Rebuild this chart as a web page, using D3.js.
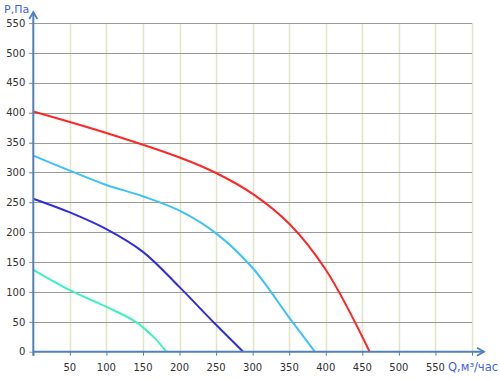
<!DOCTYPE html>
<html><head><meta charset="utf-8">
<script src="https://cdn.jsdelivr.net/npm/d3@7"></script>
<style>html,body{margin:0;padding:0;background:#fff;}</style>
</head><body>
<svg id="c" width="500" height="380"></svg>
<script>
const xTicks = [50,100,150,200,250,300,350,400,450,500,550];
const yTicks = [0,50,100,150,200,250,300,350,400,450,500,550];
const redQ = [0,100,200,250,300,350,400,460];
const redP = [402,366,325,299,264,214,137,0];
const lightBlueQ = [0,50,100,150,200,250,300,350,385];
const lightBlueP = [328,303,279,260,236,198,140,57,0];
const darkBlueQ = [0,50,100,150,200,250,287];
const darkBlueP = [256,233,205,167,108,45,0];
const greenQ = [0,50,100,140,165,182];
const greenP = [137,103,75,50,24,0];
const series = [
  {q: greenQ, p: greenP, color: "#3cf2c4"},
  {q: darkBlueQ, p: darkBlueP, color: "#2f2fe0"},
  {q: lightBlueQ, p: lightBlueP, color: "#3cc2fb"},
  {q: redQ, p: redP, color: "#ff2626"}
];

const svg = d3.select("#c");
const x = d3.scaleLinear().domain([0,600]).range([33.3,472]);
const y = d3.scaleLinear().domain([0,550]).range([351.7,23]);
const axisColor = "#4f81bd";
const font = "DejaVu Sans, Verdana, sans-serif";

// vertical gridlines
svg.append("g").selectAll("line").data(d3.range(50,601,50)).join("line")
  .attr("x1", d=>Math.round(x(d))+0.5).attr("x2", d=>Math.round(x(d))+0.5)
  .attr("y1", y(550)).attr("y2", y(0))
  .attr("stroke", "#e0e6c6").attr("stroke-width", 1.5);

// horizontal gridlines
svg.append("g").selectAll("line").data(yTicks.filter(d=>d>0)).join("line")
  .attr("x1", x(0)-4).attr("x2", x(600))
  .attr("y1", d=>Math.round(y(d))+0.5).attr("y2", d=>Math.round(y(d))+0.5)
  .attr("stroke", "#9a9a9a").attr("stroke-width", 1.2);

// x axis ticks
const xAxis = d3.axisBottom(x).tickValues(d3.range(0,601,50)).tickSize(4).tickFormat("");
const gx = svg.append("g").attr("transform", `translate(0,${y(0)})`).call(xAxis);
gx.select(".domain").remove();
gx.selectAll(".tick line").attr("stroke", axisColor).attr("stroke-width", 1);

// x tick labels
svg.append("g").selectAll("text").data(xTicks).join("text")
  .attr("x", d=>x(d)).attr("y", 371)
  .attr("text-anchor", "middle")
  .attr("font-family", font).attr("font-size", 10).attr("fill", "#333")
  .text(d=>d);

// y axis ticks + labels
const yAxis = d3.axisLeft(y).tickValues(yTicks).tickSize(4).tickPadding(4);
const gy = svg.append("g").attr("transform", `translate(${x(0)},0)`).call(yAxis);
gy.select(".domain").remove();
gy.selectAll(".tick line").attr("stroke", "#9a9a9a");
gy.selectAll(".tick text").attr("font-family", font).attr("font-size", 10).attr("fill", "#333");

// curves
const line = d3.line().x(d=>x(d[0])).y(d=>y(d[1])).curve(d3.curveCatmullRom.alpha(0.5));
series.forEach(s => {
  svg.append("path").datum(s.q.map((q,i)=>[q, s.p[i]]))
    .attr("d", line).attr("fill", "none")
    .attr("stroke", s.color).attr("stroke-width", 2);
});

// axes lines with arrows
svg.append("line").attr("x1", x(0)).attr("x2", x(0)).attr("y1", y(0)+4).attr("y2", 12)
  .attr("stroke", axisColor).attr("stroke-width", 2);
svg.append("path").attr("d", `M${x(0)-4},19 L${x(0)},12 L${x(0)+4},19`)
  .attr("fill", "none").attr("stroke", axisColor).attr("stroke-width", 1.8);
svg.append("line").attr("x1", x(0)).attr("x2", 484).attr("y1", y(0)).attr("y2", y(0))
  .attr("stroke", axisColor).attr("stroke-width", 2);
svg.append("path").attr("d", `M477,${y(0)-4} L484,${y(0)} L477,${y(0)+4}`)
  .attr("fill", "none").attr("stroke", axisColor).attr("stroke-width", 1.8);

// axis titles
svg.append("text").attr("x", 4).attr("y", 13)
  .attr("font-family", font).attr("font-size", 11).attr("fill", "#3f5ff0")
  .text("P,Па");
svg.append("text").attr("x", 448).attr("y", 371)
  .attr("font-family", font).attr("font-size", 11.5).attr("fill", "#3f5ff0")
  .text("Q,м³/час");
</script>
</body></html>
